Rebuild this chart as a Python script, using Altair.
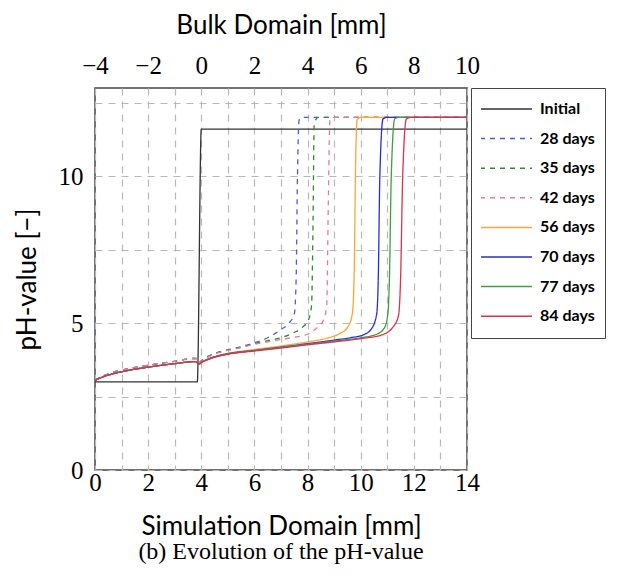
import altair as alt
import pandas as pd

series_names = ["Initial", "28 days", "35 days", "42 days", "56 days", "70 days", "77 days", "84 days"]
series_colors = ["#333333", "#4a5ae8", "#2d8a2d", "#e87a98", "#ffa532", "#2a2ae0", "#3f9f3f", "#e0304e"]
series_dashes = [[1, 0], [5, 5], [5, 5], [5, 5], [1, 0], [1, 0], [1, 0], [1, 0]]

pre_x = [0, 0.3, 0.7, 1.2, 2, 3, 3.8, 3.9]
pre_solid_y = [3.05, 3.17, 3.28, 3.38, 3.5, 3.62, 3.69, 3.6]
pre_dashed_y = [3.05, 3.2, 3.33, 3.44, 3.56, 3.7, 3.8, 3.64]

initial_x = [0, 3.85, 4.0, 14]
initial_y = [3.0, 3.0, 11.6, 11.6]

d28_x = [4.0, 4.45, 4.95, 5.5, 6.0, 6.5, 7.0, 7.3, 7.5, 7.57, 7.62, 7.68, 7.8, 14]
d28_y = [3.72, 3.95, 4.08, 4.2, 4.33, 4.5, 4.78, 5.0, 5.3, 6.5, 10, 11.9, 12.0, 12.0]

d35_x = [4.0, 4.45, 4.95, 5.5, 6, 6.5, 7, 7.5, 7.8, 8.05, 8.15, 8.2, 8.25, 8.4, 14]
d35_y = [3.72, 3.94, 4.07, 4.18, 4.3, 4.4, 4.5, 4.68, 4.85, 5.15, 5.6, 8, 11.8, 12.0, 12.0]

d42_x = [4.0, 4.45, 4.95, 5.5, 6, 6.5, 7, 7.5, 8.0, 8.3, 8.6, 8.72, 8.78, 8.84, 9.0, 14]
d42_y = [3.7, 3.93, 4.06, 4.17, 4.28, 4.36, 4.44, 4.52, 4.62, 4.8, 5.1, 5.6, 9, 11.9, 12.0, 12.0]

d56_x = [4.0, 4.45, 4.95, 6, 7, 8, 8.7, 9.2, 9.5, 9.68, 9.75, 9.8, 9.86, 10.0, 14]
d56_y = [3.66, 3.84, 3.96, 4.1, 4.22, 4.36, 4.48, 4.64, 4.85, 5.3, 6.5, 10, 11.9, 12.0, 12.0]

d70_x = [4.0, 4.45, 4.95, 6, 7, 8, 9, 9.6, 10.1, 10.4, 10.6, 10.66, 10.72, 10.84, 11.0, 14]
d70_y = [3.66, 3.84, 3.95, 4.07, 4.18, 4.3, 4.42, 4.5, 4.6, 4.8, 5.3, 6.5, 10, 11.95, 12.0, 12.0]

d77_x = [4.0, 4.45, 4.95, 6, 7, 8, 9, 10, 10.6, 10.9, 11.02, 11.08, 11.15, 11.28, 11.45, 14]
d77_y = [3.66, 3.83, 3.94, 4.06, 4.17, 4.28, 4.39, 4.5, 4.62, 4.85, 5.3, 6.5, 10, 11.95, 12.0, 12.0]

d84_x = [4.0, 4.45, 4.95, 6, 7, 8, 9, 10, 10.8, 11.2, 11.42, 11.5, 11.58, 11.72, 11.9, 14]
d84_y = [3.65, 3.82, 3.93, 4.05, 4.15, 4.26, 4.36, 4.47, 4.6, 4.85, 5.25, 6.5, 10, 11.95, 12.0, 12.0]

sim_ticks = list(range(0, 15))
bulk_ticks = [-4, -2, 0, 2, 4, 6, 8, 10]
ph_ticks = [0, 2.5, 5, 7.5, 10, 12.5]

rows = []
def add(name, xs, ys):
    for i, (a, b) in enumerate(zip(xs, ys)):
        rows.append({"series": name, "x": a, "pH": b, "i": i})

add("Initial", initial_x, initial_y)
add("28 days", pre_x + d28_x, pre_dashed_y + d28_y)
add("35 days", pre_x + d35_x, pre_dashed_y + d35_y)
add("42 days", pre_x + d42_x, pre_dashed_y + d42_y)
add("56 days", pre_x + d56_x, pre_solid_y + d56_y)
add("70 days", pre_x + d70_x, pre_solid_y + d70_y)
add("77 days", pre_x + d77_x, pre_solid_y + d77_y)
add("84 days", pre_x + d84_x, pre_solid_y + d84_y)
df = pd.DataFrame(rows)

sans = "Lato"
serif = "Liberation Serif"

legend_kw = dict(
    orient="none", legendX=376, legendY=0, title=None,
    symbolType="stroke", symbolSize=2704, symbolStrokeWidth=1.5, clipHeight=22,
    labelFont=sans, labelFontSize=16, labelFontWeight="bold", labelColor="black",
    symbolOffset=-2, labelOffset=7, rowPadding=7.6, padding=10,
    strokeColor="#444444", fillColor="white",
)

lines = alt.Chart(df).mark_line(strokeWidth=1.3, interpolate="monotone", clip=True).encode(
    x=alt.X("x:Q", scale=alt.Scale(domain=[0, 14], nice=False),
            axis=alt.Axis(orient="bottom", values=sim_ticks,
                          labelExpr="datum.value % 2 == 0 ? datum.label : ''",
                          title="Simulation Domain [mm]", grid=True, labelFlush=False,
                          labelFont=serif, labelFontSize=25, labelBaseline="alphabetic",
                          labelPadding=20, titleY=64, titleBaseline="alphabetic")),
    y=alt.Y("pH:Q", scale=alt.Scale(domain=[0, 13], nice=False),
            axis=alt.Axis(values=ph_ticks,
                          labelExpr="datum.value % 5 == 0 ? datum.label : ''",
                          title="pH-value [−]", grid=True, labelFlush=False,
                          labelFont=serif, labelFontSize=25, labelPadding=12,
                          titleX=-68, titleY=191, titleBaseline="middle", titleAngle=270)),
    color=alt.Color("series:N", scale=alt.Scale(domain=series_names, range=series_colors),
                    legend=alt.Legend(**legend_kw)),
    strokeDash=alt.StrokeDash("series:N", scale=alt.Scale(domain=series_names, range=series_dashes),
                              legend=alt.Legend(**legend_kw)),
    order="i:Q",
)

bulk_df = pd.DataFrame({"b": bulk_ticks})
top = alt.Chart(bulk_df).mark_point(opacity=0).encode(
    x=alt.X("b:Q", scale=alt.Scale(domain=[-4, 10], nice=False),
            axis=alt.Axis(orient="top", values=bulk_ticks, title="Bulk Domain [mm]", grid=False,
                          labelFlush=False,
                          labelFont=serif, labelFontSize=25, labelBaseline="alphabetic",
                          labelPadding=15, titleY=-55, titleBaseline="alphabetic")),
)

chart = alt.layer(lines, top).resolve_scale(x="independent").properties(
    width=372, height=382,
    autosize=alt.AutoSizeParams(type="none"),
    padding={"left": 95, "top": 88, "right": 152, "bottom": 109},
    title=alt.TitleParams(text="(b) Evolution of the pH-value", orient="bottom", anchor="middle",
                          font=serif, fontSize=24, fontWeight="normal", color="black", offset=1),
).configure_view(
    stroke="#444444", strokeWidth=1.5
).configure_axis(
    domain=False, ticks=False, tickSize=0,
    gridColor="#b8b8b8", gridDash=[7, 6], gridWidth=1.2,
    labelColor="black", titleColor="black",
    titleFont=sans, titleFontSize=26, titleFontWeight="normal",
)

chart.save("out.html", embed_options={"renderer": "svg", "actions": False})
